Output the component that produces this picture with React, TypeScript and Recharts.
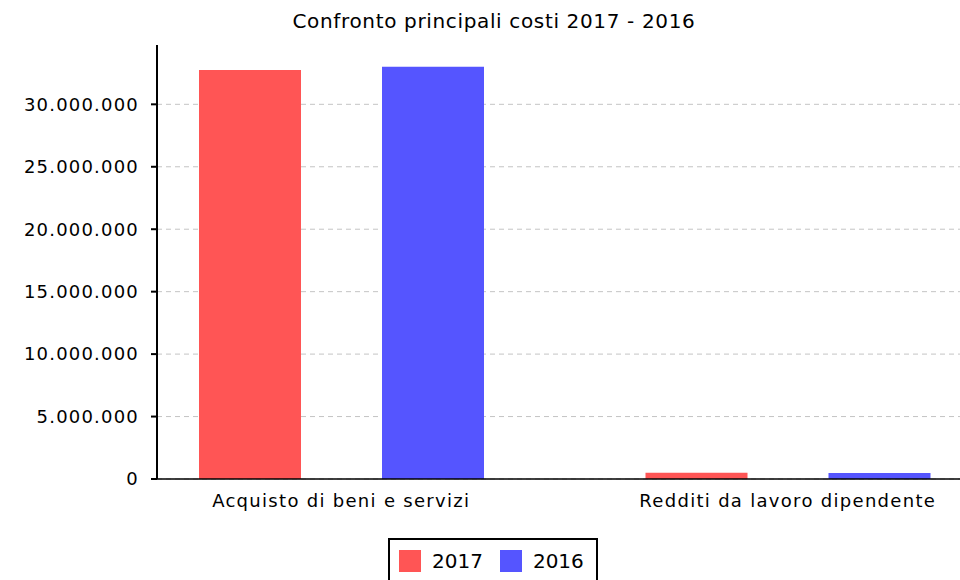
import React from 'react';
import { BarChart, Bar, XAxis, YAxis, CartesianGrid, Legend } from 'recharts';

const categories = ['Acquisto di beni e servizi', 'Redditi da lavoro dipendente'];
const values2017 = [32740000, 500000];
const values2016 = [33010000, 480000];
const seriesNames = ['2017', '2016'];
const seriesColors = ['#FF5555', '#5555FF'];
const yTicks = [0, 5000000, 10000000, 15000000, 20000000, 25000000, 30000000];
const titleText = 'Confronto principali costi 2017 - 2016';

const data = categories.map((c, i) => ({ name: c, v2017: values2017[i], v2016: values2016[i] }));

const FONT = '"DejaVu Sans", Verdana, sans-serif';

const fmt = (v: number) => String(Math.round(v)).replace(/\B(?=(\d{3})+(?!\d))/g, '.');

const LegendBox = (props: any) => {
  const payload = [...(props.payload || [])].sort(
    (a: any, b: any) => seriesNames.indexOf(String(a.value)) - seriesNames.indexOf(String(b.value))
  );
  return (
    <div
      style={{
        boxSizing: 'border-box',
        border: '2px solid #000',
        height: 52,
        padding: '10px 9px',
        display: 'flex',
        alignItems: 'flex-start',
        fontFamily: FONT,
        fontSize: 20,
        background: '#fff',
      }}
    >
      {payload.map((p: any, i: number) => (
        <div key={i} style={{ display: 'flex', alignItems: 'center', marginRight: i < payload.length - 1 ? 17 : 0 }}>
          <div style={{ width: 22, height: 22, background: p.color, marginRight: 11 }} />
          <span style={{ lineHeight: '22px', color: '#000' }}>{p.value}</span>
        </div>
      ))}
    </div>
  );
};

export default function App() {
  return (
    <div style={{ position: 'absolute', left: 0, top: 0, width: 960, height: 580, background: '#fff', overflow: 'hidden' }}>
      <div
        style={{
          position: 'absolute',
          left: 0,
          top: 11,
          width: 988,
          textAlign: 'center',
          fontFamily: FONT,
          fontSize: 20,
          lineHeight: '20px',
          letterSpacing: 0.65,
          color: '#000',
          zIndex: 2,
        }}
      >
        {titleText}
      </div>
      <BarChart
        width={960}
        height={580}
        data={data}
        margin={{ top: 45, right: 0, bottom: 71, left: 0 }}
        barGap={81}
        style={{ fontFamily: FONT }}
      >
        <CartesianGrid
          vertical={false}
          stroke="#c4c4c4"
          strokeDasharray="5 4"
          horizontalValues={yTicks}
        />
        <XAxis
          dataKey="name"
          padding={{ left: -39, right: -51 }}
          tickLine={false}
          tickSize={0}
          tickMargin={15}
          axisLine={{ stroke: '#000', strokeWidth: 1.5 }}
          tick={{ fontSize: 18, fill: '#000', letterSpacing: 1.3, fontFamily: FONT }}
          interval={0}
        />
        <YAxis
          width={157}
          domain={[0, 34750000]}
          ticks={yTicks}
          allowDataOverflow
          tickFormatter={fmt}
          tickSize={6}
          tickMargin={12}
          axisLine={{ stroke: '#000', strokeWidth: 2 }}
          tickLine={{ stroke: '#000', strokeWidth: 2 }}
          tick={{ fontSize: 18, fill: '#000', letterSpacing: 1.2, fontFamily: FONT }}
        />
        <Legend
          layout="horizontal"
          verticalAlign="middle"
          align="center"
          wrapperStyle={{ left: 388, top: 538, width: 210, height: 52 }}
          content={<LegendBox />}
        />
        <Bar dataKey="v2017" name={seriesNames[0]} fill={seriesColors[0]} barSize={102} isAnimationActive={false} />
        <Bar dataKey="v2016" name={seriesNames[1]} fill={seriesColors[1]} barSize={102} isAnimationActive={false} />
      </BarChart>
    </div>
  );
}
